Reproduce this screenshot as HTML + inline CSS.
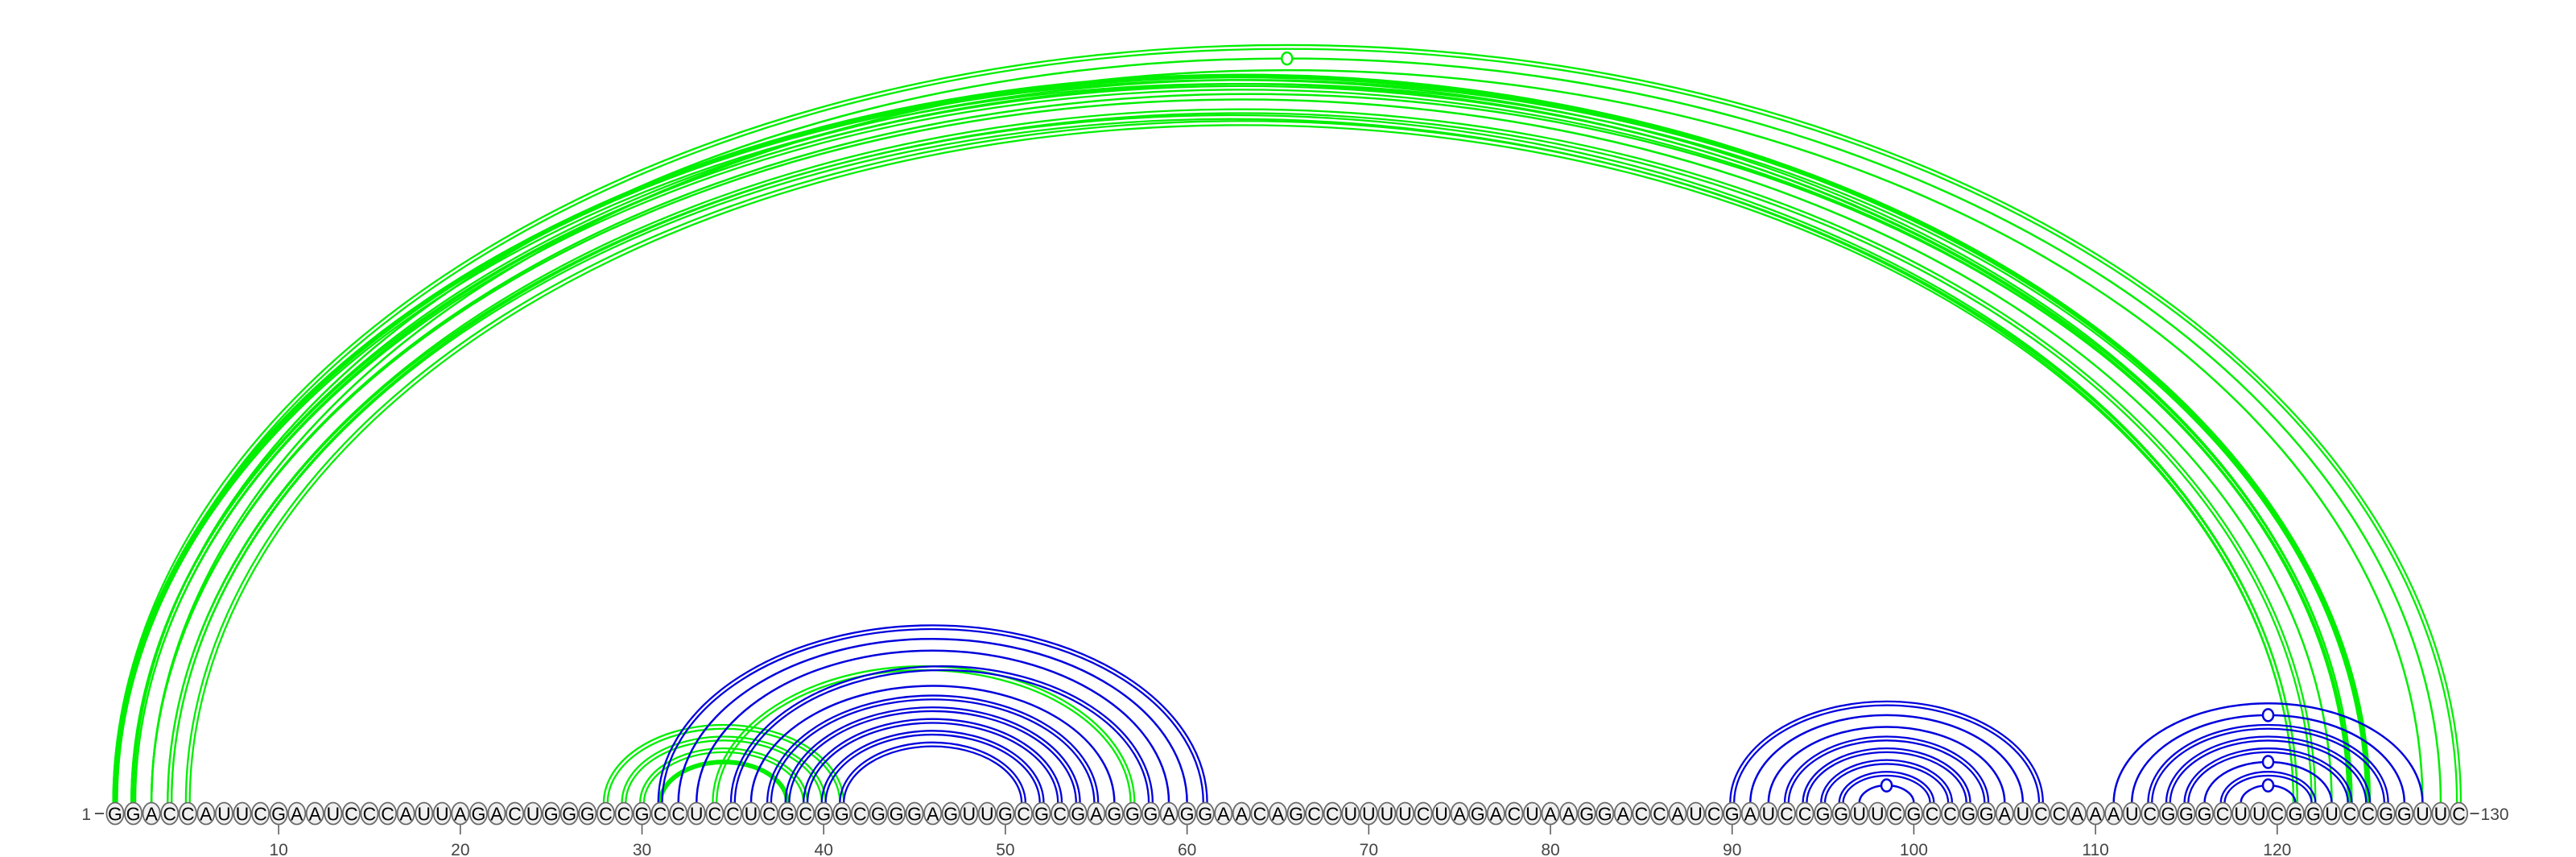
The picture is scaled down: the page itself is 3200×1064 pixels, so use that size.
<!DOCTYPE html>
<html>
<head>
<meta charset="utf-8">
<style>
  html,body{margin:0;padding:0;background:#fff;}
  svg{display:block;}
  text{font-family:"Liberation Sans",sans-serif;}
</style>
</head>
<body>
<svg id="chart" width="3200" height="1064" viewBox="0 0 3200 1064" xmlns="http://www.w3.org/2000/svg">
  <g id="arcs"></g>
  <g id="bases"></g>
  <g id="axis"></g>
</svg>
<script>
const sequence = "GGACCAUUCGAAUCCCAUUAGACUGGGCCGCCUCCUCGCGGCGGGAGUUGCGCGAGGGAGGAACAGCCUUUUCUAGACUAAGGACCAUCGAUCCGGUUCGCCGGAUCCAAAUCGGGCUUCGGUCCGGUUC";
const tickPositions = [10,20,30,40,50,60,70,80,90,100,110,120];
// arc endpoints (1-based nucleotide positions)
const arcStart = [1,2,3,1,1,2,2,3,3,4,4,5, 28,29,30,31,34, 31,32,33,35,36,37,38,39,40,41, 90,91,92,93,94,95,96,97, 111,112,113,114,115,116,117,118];
const arcEnd   = [130,129,128,125,124,125,124,124,123,122,121,121, 41,40,39,38,57, 61,60,59,58,56,55,54,53,52,51, 107,106,105,104,103,102,101,100, 128,127,126,125,124,123,122,121];
const arcStructure = ["g","g","g","g","g","g","g","g","g","g","g","g", "g","g","g","g","g", "b","b","b","b","b","b","b","b","b","b", "b","b","b","b","b","b","b","b", "b","b","b","b","b","b","b","b"];
const arcMultiplicity = [2,1,1,3,2,2,2,1,1,2,2,2, 2,2,2,3,2, 2,1,1,2,1,2,2,2,2,2, 2,1,1,2,2,2,2,1, 1,1,2,2,2,1,2,1];
const arcMarked = [0,1,0,0,0,0,0,0,0,0,0,0, 0,0,0,0,0, 0,0,0,0,0,0,0,0,0,0, 0,0,0,0,0,0,0,1, 0,1,0,0,0,1,0,1];

const NS = "http://www.w3.org/2000/svg";
const x0 = 143, step = 22.57, baseY = 1010, arcY = 997, ratio = 0.645;
const colors = {g:"#00ee00", b:"#0000dd"};
function xScale(pos){ return x0 + (pos-1)*step; }

const arcsG = document.getElementById("arcs");
for (let k=0;k<arcStart.length;k++){
  const xa = xScale(arcStart[k]), xb = xScale(arcEnd[k]);
  const cx = (xa+xb)/2, rx = (xb-xa)/2, ry = rx*ratio;
  const col = colors[arcStructure[k]];
  const m = arcMultiplicity[k];
  let offs, w;
  if (m===1){ offs=[0]; w=2.5; }
  else if (m===2){ offs=[-2.4,2.4]; w=2.3; }
  else { offs=[-1.6,0,1.6]; w=2.6; }
  const grp = document.createElementNS(NS,"g");
  
  
  offs.forEach(o=>{
    const r1 = rx+o, r2 = ry+o;
    const p = document.createElementNS(NS,"path");
    p.setAttribute("d",`M ${cx-r1} ${arcY} A ${r1} ${r2} 0 0 1 ${cx+r1} ${arcY}`);
    p.setAttribute("fill","none");
    p.setAttribute("stroke",col);
    p.setAttribute("stroke-width",w);
    
    
    grp.appendChild(p);
  });
  if (arcMarked[k]){
    const c = document.createElementNS(NS,"ellipse");
    c.setAttribute("cx",cx); c.setAttribute("cy",arcY-ry);
    c.setAttribute("rx",6.5); c.setAttribute("ry",7.5);
    c.setAttribute("fill","#fff"); c.setAttribute("stroke",col); c.setAttribute("stroke-width",2.5);
    
    
    grp.appendChild(c);
  }
  arcsG.appendChild(grp);
}

const basesG = document.getElementById("bases");
for (let i=0;i<sequence.length;i++){
  const x = xScale(i+1);
  const g = document.createElementNS(NS,"g");
  
  
  const e = document.createElementNS(NS,"ellipse");
  e.setAttribute("cx",x); e.setAttribute("cy",baseY);
  e.setAttribute("rx",10.6); e.setAttribute("ry",13.5);
  e.setAttribute("fill","#f0f0f0"); e.setAttribute("stroke","#6a6a6a"); e.setAttribute("stroke-width",1.8);
  g.appendChild(e);
  const t = document.createElementNS(NS,"text");
  t.setAttribute("x",x); t.setAttribute("y",baseY+8.5);
  t.setAttribute("text-anchor","middle"); t.setAttribute("font-size","23");
  t.setAttribute("fill","#000");
  t.textContent = sequence[i];
  g.appendChild(t);
  basesG.appendChild(g);
}

const axisG = document.getElementById("axis");
tickPositions.forEach(p=>{
  const x = xScale(p);
  const l = document.createElementNS(NS,"line");
  l.setAttribute("x1",x); l.setAttribute("x2",x);
  l.setAttribute("y1",1024); l.setAttribute("y2",1036);
  l.setAttribute("stroke","#555"); l.setAttribute("stroke-width",1.5);
  
  
  axisG.appendChild(l);
  const t = document.createElementNS(NS,"text");
  t.setAttribute("x",x); t.setAttribute("y",1062);
  t.setAttribute("text-anchor","middle"); t.setAttribute("font-size","21");
  t.setAttribute("fill","#444");
  
  
  t.textContent = p;
  axisG.appendChild(t);
});
// start / end labels
const sL = document.createElementNS(NS,"text");
sL.setAttribute("x",xScale(1)-30); sL.setAttribute("y",baseY+8);
sL.setAttribute("text-anchor","end"); sL.setAttribute("font-size","21"); sL.setAttribute("fill","#444");


sL.textContent = "1";
axisG.appendChild(sL);
const sD = document.createElementNS(NS,"line");
sD.setAttribute("x1",xScale(1)-25); sD.setAttribute("x2",xScale(1)-14);
sD.setAttribute("y1",baseY); sD.setAttribute("y2",baseY);
sD.setAttribute("stroke","#444"); sD.setAttribute("stroke-width",1.8);


axisG.appendChild(sD);
const eD = document.createElementNS(NS,"line");
eD.setAttribute("x1",xScale(sequence.length)+14); eD.setAttribute("x2",xScale(sequence.length)+25);
eD.setAttribute("y1",baseY); eD.setAttribute("y2",baseY);
eD.setAttribute("stroke","#444"); eD.setAttribute("stroke-width",1.8);


axisG.appendChild(eD);
const eL = document.createElementNS(NS,"text");
eL.setAttribute("x",xScale(sequence.length)+27); eL.setAttribute("y",baseY+8);
eL.setAttribute("text-anchor","start"); eL.setAttribute("font-size","21"); eL.setAttribute("fill","#444");


eL.textContent = String(sequence.length);
axisG.appendChild(eL);
</script>
</body>
</html>
